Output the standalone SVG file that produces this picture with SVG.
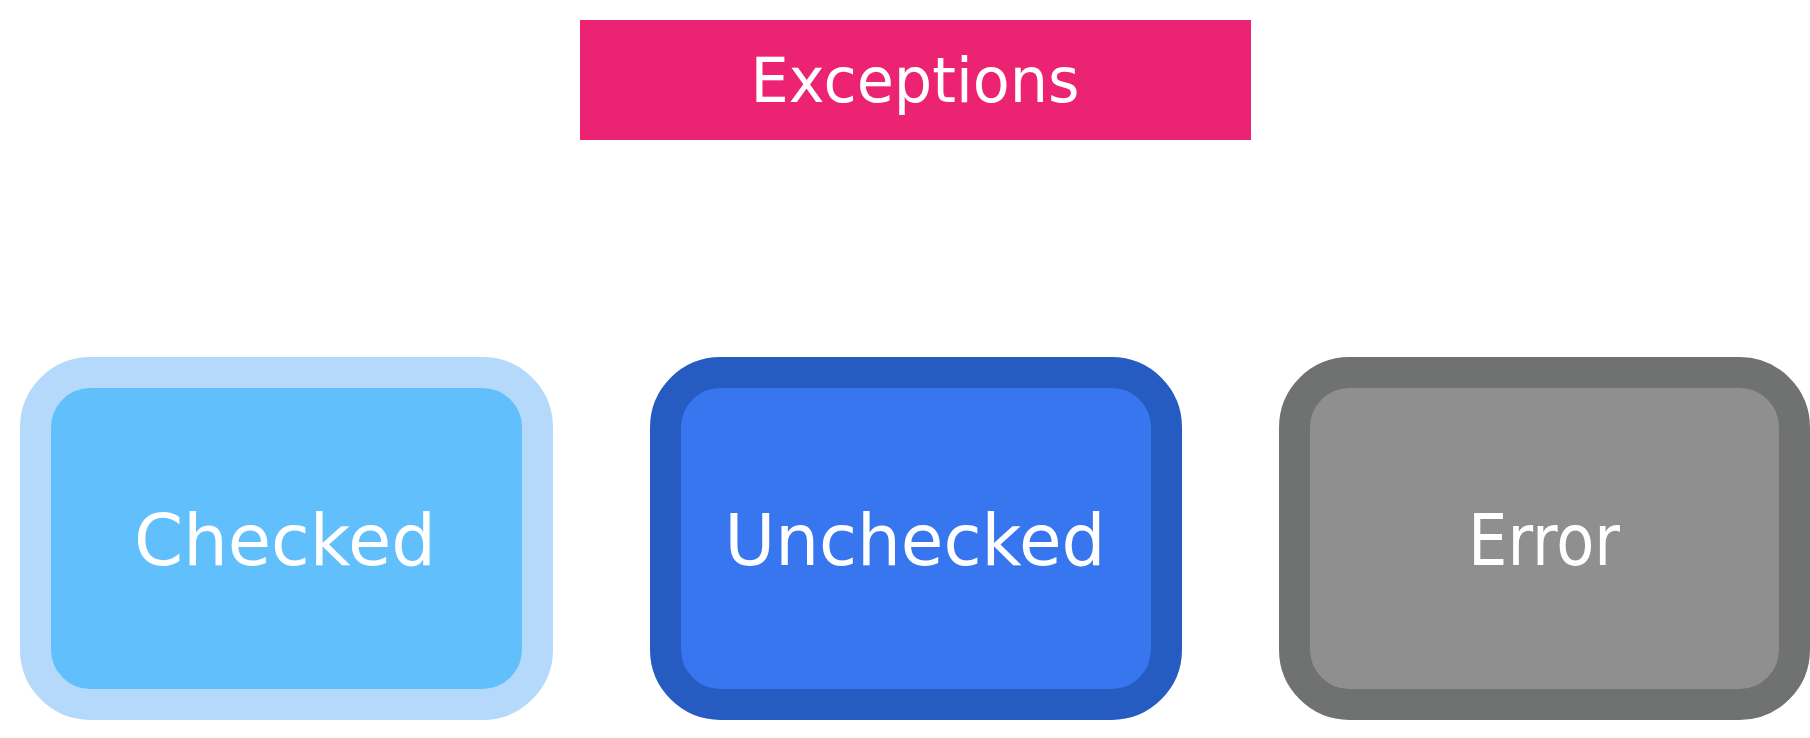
<svg xmlns="http://www.w3.org/2000/svg" width="1810" height="738" viewBox="0 0 1810 738">
<style>
.lbl{font-family:"DejaVu Sans","Open Sans",sans-serif;fill:#ffffff;text-anchor:middle}
.box{stroke-width:31}
</style>
<rect width="1810" height="738" fill="#ffffff"/>
<g id="exceptions">
<rect x="580" y="20" width="671" height="120" fill="#ec2372"/>
<text class="lbl" x="915" y="102" font-size="63" textLength="329" lengthAdjust="spacingAndGlyphs">Exceptions</text>
</g>
<g id="connectors"></g>
<g id="checked">
<rect class="box" x="35.5" y="372.5" width="502" height="332" rx="55" fill="#61bffc" stroke="#b5d9fb"/>
<text class="lbl" x="285" y="565" font-size="71" textLength="302" lengthAdjust="spacingAndGlyphs">Checked</text>
</g>
<g id="unchecked">
<rect class="box" x="665.5" y="372.5" width="501" height="332" rx="55" fill="#3876ef" stroke="#265bc1"/>
<text class="lbl" x="915" y="565" font-size="71" textLength="381" lengthAdjust="spacingAndGlyphs">Unchecked</text>
</g>
<g id="error">
<rect class="box" x="1294.5" y="372.5" width="500" height="332" rx="55" fill="#8e8f8e" stroke="#6f7270"/>
<text class="lbl" x="1544" y="565" font-size="71" textLength="152" lengthAdjust="spacingAndGlyphs">Error</text>
</g>
</svg>
